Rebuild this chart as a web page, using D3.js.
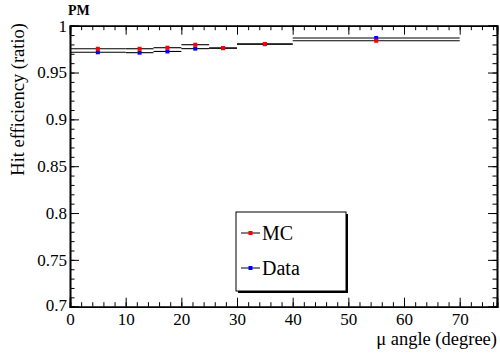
<!DOCTYPE html>
<html><head><meta charset="utf-8">
<script src="https://cdn.jsdelivr.net/npm/d3@7"></script>
<style>
body{margin:0;background:#fff;}
</style></head>
<body><svg id="c" width="500" height="360"></svg>
<script>
// bin edges (degrees) and centres
const binLow  = [0, 10, 15, 20, 25, 30, 40];
const binHigh = [10, 15, 20, 25, 30, 40, 70];
const binCenter = [5, 12.5, 17.5, 22.5, 27.5, 35, 55];
// efficiencies
const mcValues   = [0.9754, 0.9754, 0.9765, 0.9797, 0.9762, 0.9805, 0.9839];
const dataValues = [0.9716, 0.9712, 0.9725, 0.9755, 0.9760, 0.9803, 0.9869];
const xTicks = [0, 10, 20, 30, 40, 50, 60, 70];
const yTicks = [0.7, 0.75, 0.8, 0.85, 0.9, 0.95, 1];
const yTickLabels = ["0.7", "0.75", "0.8", "0.85", "0.9", "0.95", "1"];
const seriesNames = ["MC", "Data"];
const seriesColors = ["#ff0000", "#0000ff"];

const FONT = '"Liberation Serif"';
const svg = d3.select("#c");
const L = 70, R = 497, T = 25.7, B = 306.7;
const x = d3.scaleLinear().domain([0, 76.7]).range([L, R]);
const y = d3.scaleLinear().domain([0.7, 1.0]).range([B, T]);

const xMinor = d3.range(0, 76.7, 2);
const yMinor = d3.range(0.70, 1.0001, 0.01);

function axisGroup(axis, tr){ return svg.append("g").attr("transform", tr).call(axis); }

axisGroup(d3.axisBottom(x).tickValues(xMinor).tickFormat("").tickSize(-4.5), `translate(0,${B})`);
axisGroup(d3.axisTop(x).tickValues(xMinor).tickFormat("").tickSize(-4.5), `translate(0,${T})`);
axisGroup(d3.axisTop(x).tickValues(xTicks).tickFormat("").tickSize(-9), `translate(0,${T})`);
axisGroup(d3.axisLeft(y).tickValues(yMinor).tickFormat("").tickSize(-4.5), `translate(${L},0)`);
axisGroup(d3.axisRight(y).tickValues(yMinor).tickFormat("").tickSize(-4.5), `translate(${R},0)`);
axisGroup(d3.axisRight(y).tickValues(yTicks).tickFormat("").tickSize(-9), `translate(${R},0)`);
const gxb = axisGroup(d3.axisBottom(x).tickValues(xTicks).tickFormat(d3.format("d")).tickSize(-9).tickPadding(6), `translate(0,${B})`);
const gyl = axisGroup(d3.axisLeft(y).tickValues(yTicks).tickFormat((d,i)=>yTickLabels[i]).tickSize(-9).tickPadding(3), `translate(${L},0)`);

svg.selectAll(".domain").attr("stroke", "#000").attr("stroke-width", 1.6);
svg.selectAll(".tick line").attr("stroke", "#000").attr("stroke-width", 1);
svg.selectAll("g").attr("font-family", FONT);
svg.selectAll(".tick text").attr("fill", "#000").attr("font-family", FONT).attr("font-size", 17);
gyl.selectAll(".tick text").filter(d => d === 0.7).attr("dy", "0.2em");

// histogram bins: horizontal lines, data first then MC
function drawSeries(vals, color){
  const g = svg.append("g");
  g.selectAll("line").data(vals).join("line")
    .attr("x1", (d,i)=>x(binLow[i])).attr("x2", (d,i)=>x(binHigh[i]))
    .attr("y1", d=>y(d)).attr("y2", d=>y(d))
    .attr("stroke", "#000").attr("stroke-width", 1.1);
  g.selectAll("rect").data(vals).join("rect")
    .attr("x", (d,i)=>x(binCenter[i]) - 2).attr("y", d=>y(d) - 2)
    .attr("width", 4).attr("height", 4).attr("fill", color);
}
drawSeries(dataValues, seriesColors[1]);
drawSeries(mcValues, seriesColors[0]);

// titles
svg.append("text").attr("x", 497).attr("y", 345).attr("text-anchor", "end")
  .attr("font-family", FONT).attr("font-size", 18.5).text("μ angle (degree)");
svg.append("text").attr("transform", "translate(24,23) rotate(-90)").attr("text-anchor", "end")
  .attr("font-family", FONT).attr("font-size", 18.5).text("Hit efficiency (ratio)");
svg.append("text").attr("x", 68).attr("y", 15).attr("font-family", FONT)
  .attr("font-size", 14).attr("font-weight", "bold").text("PM");

// legend
const lg = svg.append("g");
const lx = 236, ly = 212, lw = 110, lh = 79;
lg.append("rect").attr("x", lx+2).attr("y", ly+2).attr("width", lw).attr("height", lh).attr("fill", "#000");
lg.append("rect").attr("x", lx).attr("y", ly).attr("width", lw).attr("height", lh).attr("fill", "#fff").attr("stroke", "#000").attr("stroke-width", 1);
const ey = [233, 268];
seriesNames.forEach((n,i)=>{
  lg.append("line").attr("x1", lx+5).attr("x2", lx+24).attr("y1", ey[i]).attr("y2", ey[i]).attr("stroke", "#000").attr("stroke-width", 1);
  lg.append("rect").attr("x", lx+12.5).attr("y", ey[i]-2).attr("width", 4).attr("height", 4).attr("fill", seriesColors[i]);
  lg.append("text").attr("x", lx+26).attr("y", ey[i]+7).attr("font-family", FONT).attr("font-size", 20).text(n);
});
</script></body></html>
